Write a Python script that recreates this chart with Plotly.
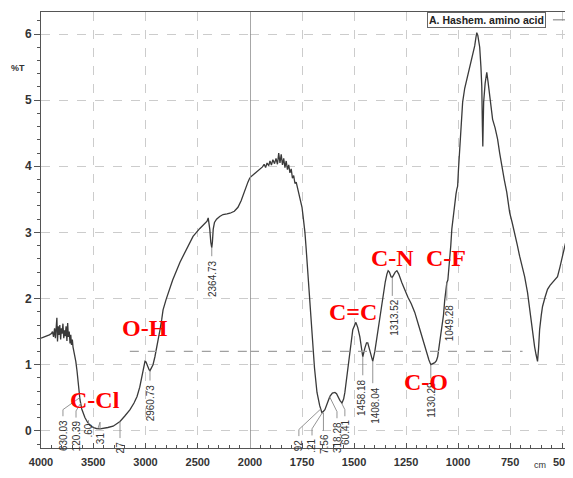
import numpy as np
import plotly.graph_objects as go

# ---------------- data ----------------
WAVENUMBER = [
    4000, 3980, 3960, 3940, 3920, 3900,
    3890, 3880, 3870, 3862, 3855, 3848, 3842, 3835, 3828, 3820, 3812, 3805, 3798, 3790,
    3782, 3775, 3768, 3760, 3752, 3745, 3738, 3730, 3722, 3715, 3708, 3700,
    3694, 3680, 3667, 3655, 3640, 3627, 3610, 3595, 3580, 3555, 3530, 3500, 3470, 3435,
    3400, 3360, 3310, 3270, 3244, 3200, 3148, 3110, 3081, 3055, 3033, 3018, 3005, 2995,
    2980, 2965, 2957, 2945, 2928, 2910, 2890, 2875, 2861, 2845, 2832, 2804, 2740, 2670,
    2600, 2545, 2480, 2440, 2411, 2400, 2385, 2375, 2366, 2360, 2352, 2340, 2320, 2290,
    2258, 2220, 2191, 2150, 2115, 2085, 2048, 2020, 2000,
    1980, 1960, 1940, 1932, 1925, 1918, 1910, 1904, 1897, 1890, 1882, 1875, 1868, 1862,
    1856, 1850, 1844, 1838, 1832, 1826, 1820, 1814, 1808, 1802, 1796, 1790, 1784, 1778,
    1770, 1760, 1750, 1745, 1740, 1736, 1730, 1722, 1712, 1705, 1698, 1690, 1678, 1665,
    1654, 1648, 1640, 1628, 1616, 1604, 1592, 1584, 1578, 1568, 1558, 1550, 1544, 1535,
    1520, 1506, 1491, 1482, 1472, 1465, 1458, 1448, 1440, 1434, 1425, 1417, 1410, 1400,
    1390, 1380, 1370, 1360, 1350, 1342, 1336, 1330, 1322, 1316, 1310, 1302, 1294, 1285,
    1270, 1255, 1241, 1225, 1208, 1190, 1174, 1160, 1150, 1140, 1131, 1122, 1112, 1104,
    1098, 1090, 1078, 1070, 1064, 1058, 1054, 1049, 1044, 1040, 1035, 1030, 1020, 1010,
    1006, 1002, 998, 992, 985, 978, 968, 958, 946, 934, 926, 920, 914, 910,
    905, 900, 896, 890, 886, 883, 881, 879, 877, 870, 866, 862, 856, 848,
    841, 834, 822, 810, 800, 790, 778, 766, 752, 740, 728, 716, 704, 692,
    680, 666, 656, 646, 639, 632, 625, 618, 613, 608, 600, 594, 582, 570,
    558, 546, 534, 522, 510, 498, 486, 474, 462, 454, 447,
]
TRANSMITTANCE = [
    1.40, 1.41, 1.42, 1.44, 1.45, 1.47,
    1.50, 1.42, 1.55, 1.40, 1.62, 1.71, 1.35, 1.58, 1.45, 1.60, 1.38, 1.55, 1.47, 1.62,
    1.40, 1.52, 1.43, 1.58, 1.36, 1.63, 1.42, 1.50, 1.32, 1.45, 1.30, 1.38,
    1.27, 1.18, 1.05, 0.90, 0.68, 0.47, 0.33, 0.25, 0.20, 0.13, 0.08, 0.05, 0.035, 0.03,
    0.035, 0.05, 0.07, 0.11, 0.14, 0.22, 0.32, 0.42, 0.52, 0.66, 0.82, 0.95, 1.05, 1.04,
    0.97, 0.92, 0.91, 0.95, 1.00, 1.12, 1.27, 1.40, 1.53, 1.68, 1.83, 1.98, 2.28, 2.55,
    2.76, 2.94, 3.06, 3.12, 3.17, 3.22, 3.05, 2.85, 2.77, 2.85, 3.05, 3.15, 3.20, 3.24,
    3.27, 3.28, 3.29, 3.32, 3.38, 3.48, 3.65, 3.76, 3.83,
    3.88, 3.93, 3.99, 4.03, 3.98, 4.05, 4.01, 4.08, 4.02, 4.10, 4.04, 4.12, 4.03, 4.20,
    4.05, 4.18, 4.02, 4.12, 3.98, 4.08, 3.95, 4.02, 3.90, 3.96, 3.82, 3.86, 3.74, 3.76,
    3.66, 3.55, 3.38, 3.25, 3.12, 3.00, 2.75, 2.39, 1.98, 1.65, 1.23, 0.95, 0.58, 0.38,
    0.27, 0.30, 0.32, 0.42, 0.52, 0.57, 0.58, 0.56, 0.52, 0.46, 0.42, 0.48, 0.58, 0.82,
    1.23, 1.53, 1.64, 1.56, 1.42, 1.25, 1.12, 1.25, 1.33, 1.33, 1.22, 1.12, 1.05, 1.20,
    1.42, 1.65, 1.88, 2.08, 2.25, 2.37, 2.42, 2.40, 2.33, 2.32, 2.36, 2.40, 2.42, 2.37,
    2.24, 2.12, 2.02, 1.92, 1.79, 1.60, 1.42, 1.28, 1.18, 1.07, 1.00, 1.01, 1.03, 1.06,
    1.12, 1.30, 1.53, 1.75, 1.98, 2.15, 2.24, 2.28, 2.45, 2.55, 2.80, 3.05, 3.35, 3.58,
    3.65, 3.70, 3.95, 4.21, 4.60, 4.97, 5.18, 5.32, 5.48, 5.62, 5.72, 5.82, 5.95, 6.02,
    5.98, 5.90, 5.80, 5.50, 5.21, 4.60, 4.30, 4.65, 4.97, 5.25, 5.38, 5.42, 5.28, 5.06,
    4.88, 4.71, 4.58, 4.41, 4.20, 4.00, 3.80, 3.61, 3.30, 3.15, 3.00, 2.82, 2.64, 2.48,
    2.33, 2.09, 1.85, 1.53, 1.38, 1.27, 1.15, 1.05, 1.25, 1.53, 1.75, 1.88, 2.02, 2.14,
    2.20, 2.24, 2.28, 2.33, 2.48, 2.64, 2.80, 2.94, 3.10, 3.24, 3.40,
]

# x tick labels for the two scale sections (the instrument doubles the scale below 2000)
X_TICKS_HIGH = [4000, 3500, 3000, 2500]
X_TICKS_LOW = [2000, 1750, 1500, 1250, 1000, 750, 500]
Y_TICKS = [0, 1, 2, 3, 4, 5, 6]

# peak labels: visible text, label wavenumber, label top (%T), peak wavenumber, peak %T
PEAK_TEXT = ["630.03", "120.39", ".60", "31", "27", "2960.73", "2364.73",
             "92", ".21", "7.56", "318.28", "60.41", "1458.18", "1408.04",
             "1313.52", "1130.29", "1049.28"]
PEAK_LABEL_WN = [3790, 3665, 3541, 3435, 3244, 2957, 2364,
                 1765, 1702, 1645, 1582, 1544, 1467, 1400,
                 1303, 1126, 1044]
PEAK_LABEL_TOP = [0.20, 0.18, 0.14, 0.01, -0.13, 0.74, 2.62,
                  -0.10, -0.09, -0.02, 0.17, 0.20, 0.82, 0.70,
                  2.02, 0.77, 1.95]
PEAK_WN = [3630, 3620, 3545, 3455, 3244, 2957, 2366,
           1660, 1651, 1647, 1618, 1560, 1458, 1410,
           1316, 1131, 1054]
PEAK_T = [0.50, 0.42, 0.10, 0.035, 0.14, 0.91, 2.77,
          0.33, 0.28, 0.27, 0.52, 0.42, 1.12, 1.05,
          2.32, 1.00, 2.24]

# red group labels: text, wavenumber, %T
GROUP_TEXT = ["C-Cl", "O-H", "C=C", "C-N", "C-F", "C-O"]
GROUP_WN = [3483, 3005, 1506, 1314, 1059, 1155]
GROUP_T = [0.47, 1.55, 1.79, 2.62, 2.62, 0.74]

LEGEND_NAME = "A. Hashem. amino acid"
SPLIT_WN = 2000
LOW_END_WN = 486

# ---------------- figure ----------------
wn = np.array(WAVENUMBER, dtype=float)
tr = np.array(TRANSMITTANCE, dtype=float)
hi = wn >= SPLIT_WN
lo = wn <= SPLIT_WN

LINE_COLOR = "#3a3a3a"
AXIS_COLOR = "#555555"
GRID_COLOR = "#cccccc"
TICK_FONT = dict(family="Liberation Sans, Arial", size=11, color="#333333", weight="bold")

fig = go.Figure()
fig.add_trace(go.Scatter(x=wn[hi], y=tr[hi], xaxis="x", yaxis="y", mode="lines",
                         line=dict(color=LINE_COLOR, width=1.3), showlegend=False,
                         hoverinfo="skip"))
fig.add_trace(go.Scatter(x=wn[lo], y=tr[lo], xaxis="x2", yaxis="y", mode="lines",
                         line=dict(color=LINE_COLOR, width=1.3), showlegend=False,
                         hoverinfo="skip"))

# leader lines for the peak labels
for txt, lx, ly, px, py in zip(PEAK_TEXT, PEAK_LABEL_WN, PEAK_LABEL_TOP, PEAK_WN, PEAK_T):
    ax = "x" if px >= SPLIT_WN else "x2"
    if abs(lx - px) < 15:
        xs, ys = [px, px], [py, ly + 0.02]
    else:
        xs, ys = [px, lx, lx], [py, ly + 0.12, ly + 0.02]
    fig.add_trace(go.Scatter(x=xs, y=ys, xaxis=ax, yaxis="y", mode="lines",
                             line=dict(color="#888888", width=0.9), showlegend=False,
                             hoverinfo="skip"))

annotations = []
for txt, lx, ly in zip(PEAK_TEXT, PEAK_LABEL_WN, PEAK_LABEL_TOP):
    ax = "x" if lx >= SPLIT_WN else "x2"
    annotations.append(dict(x=lx, y=ly, xref=ax, yref="y", text=txt, textangle=-90,
                            showarrow=False, xanchor="center", yanchor="top",
                            font=dict(family="Liberation Sans, Arial", size=10, color="#333333")))

for txt, gx, gy in zip(GROUP_TEXT, GROUP_WN, GROUP_T):
    ax = "x" if gx >= SPLIT_WN else "x2"
    annotations.append(dict(x=gx, y=gy, xref=ax, yref="y", text=txt, showarrow=False,
                            xanchor="center", yanchor="middle",
                            font=dict(family="Liberation Serif, Times New Roman", size=24,
                                      color="#ff0000", weight="bold")))

# legend box, %T and unit labels
annotations.append(dict(x=0.7366, y=1.0, xref="paper", yref="paper", text=LEGEND_NAME,
                        showarrow=False, xanchor="left", yanchor="top",
                        bordercolor="#666666", borderwidth=1, borderpad=1, bgcolor="white",
                        font=dict(family="Liberation Sans, Arial", size=10.5, color="#222222",
                                  weight="bold")))
annotations.append(dict(x=-0.0439, y=0.872, xref="paper", yref="paper", text="%T",
                        showarrow=False, xanchor="center", yanchor="middle",
                        font=dict(family="Liberation Sans, Arial", size=9, color="#333333",
                                  weight="bold")))
annotations.append(dict(x=0.952, y=-0.022, xref="paper", yref="paper", text="cm",
                        showarrow=False, xanchor="center", yanchor="top",
                        font=dict(family="Liberation Sans, Arial", size=9, color="#333333")))

shapes = [
    # solid separator at the scale change
    dict(type="line", xref="x2", yref="paper", x0=SPLIT_WN, x1=SPLIT_WN, y0=0, y1=1,
         line=dict(color="#8a8a8a", width=1.5)),
    # legend line sample
    dict(type="line", xref="paper", yref="paper", x0=0.977, x1=1.0, y0=0.982, y1=0.982,
         line=dict(color="#777777", width=1)),
    # faint scan artefact line across the middle
    dict(type="line", xref="x", yref="y", x0=3150, x1=SPLIT_WN, y0=1.2, y1=1.2,
         line=dict(color="#a0a0a0", width=1.3, dash="dash")),
    dict(type="line", xref="x2", yref="y", x0=SPLIT_WN, x1=690, y0=1.2, y1=1.2,
         line=dict(color="#a0a0a0", width=1.3, dash="dash")),
]

DOMAIN_SPLIT = 209 / 524

common_x = dict(ticks="inside", ticklen=5, tickcolor=AXIS_COLOR, showline=True, mirror=True,
                linecolor=AXIS_COLOR, linewidth=1, showgrid=True, gridcolor=GRID_COLOR,
                griddash="dash", gridwidth=1, zeroline=False, anchor="y", tickfont=TICK_FONT,
                ticklabelstandoff=4, automargin=False, ticklabeloverflow="allow")

# the page body adds an 8 px margin, so the figure is sized to stay inside the window
fig.update_layout(
    width=557, height=462,
    margin=dict(l=33, r=0, t=4, b=22, autoexpand=False),
    paper_bgcolor="white", plot_bgcolor="white",
    showlegend=False,
    xaxis=dict(domain=[0, DOMAIN_SPLIT], range=[4000, SPLIT_WN], tickmode="array",
               tickvals=X_TICKS_HIGH,
               minor=dict(tickmode="linear", tick0=0, dtick=100, ticks="inside", ticklen=3,
                          tickcolor=AXIS_COLOR, showgrid=False),
               **common_x),
    xaxis2=dict(domain=[DOMAIN_SPLIT, 1], range=[SPLIT_WN, LOW_END_WN], tickmode="array",
                tickvals=X_TICKS_LOW,
                minor=dict(tickmode="linear", tick0=0, dtick=50, ticks="inside", ticklen=3,
                           tickcolor=AXIS_COLOR, showgrid=False),
                **common_x),
    yaxis=dict(range=[-0.26, 6.333], tickmode="array", tickvals=Y_TICKS, ticks="outside",
               ticklen=6, tickcolor=AXIS_COLOR, showline=True, linecolor=AXIS_COLOR,
               showgrid=True, gridcolor=GRID_COLOR, griddash="dash", zeroline=False,
               automargin=False,
               tickfont=dict(family="Liberation Sans, Arial", size=12, color="#333333",
                             weight="bold"),
               minor=dict(tickmode="linear", tick0=0, dtick=0.2, ticks="outside", ticklen=3,
                          tickcolor=AXIS_COLOR, showgrid=False)),
    annotations=annotations,
    shapes=shapes,
)

fig.write_html("out.html")
